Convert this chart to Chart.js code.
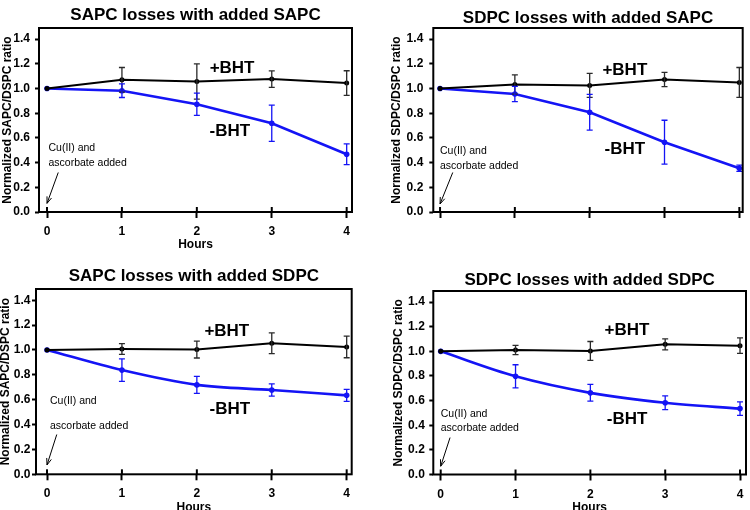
<!DOCTYPE html>
<html lang="en">
<head>
<meta charset="UTF-8">
<title>Losses with and without BHT</title>
<script src="https://cdn.jsdelivr.net/npm/chart.js@4.4.0/dist/chart.umd.min.js"></script>
<style>
    body { margin: 0; background: #fff; width: 750px; height: 510px; position: relative; overflow: hidden; }
    canvas { position: absolute; }
</style>
</head>
<body>
<canvas id="c1" width="375" height="255" style="left:0;top:0"></canvas>
<canvas id="c2" width="375" height="255" style="left:375px;top:0"></canvas>
<canvas id="c3" width="375" height="255" style="left:0;top:255px"></canvas>
<canvas id="c4" width="375" height="255" style="left:375px;top:255px"></canvas>
<script>
// data
const hours = [0, 1, 2, 3, 4];
const yTicks = [0, 0.2, 0.4, 0.6, 0.8, 1.0, 1.2, 1.4];

const titles = [
    'SAPC losses with added SAPC',
    'SDPC losses with added SAPC',
    'SAPC losses with added SDPC',
    'SDPC losses with added SDPC'
];
const yTitles = [
    'Normalized SAPC/DSPC ratio',
    'Normalized SDPC/DSPC ratio',
    'Normalized SAPC/DSPC ratio',
    'Normalized SDPC/DSPC ratio'
];
const seriesNames = ['+BHT', '-BHT'];
const noteLines = ['Cu(II) and', 'ascorbate added'];

// SAPC losses, added SAPC
const plusBHT1 = [1.0, 1.07, 1.057, 1.076, 1.044];
const plusErr1 = [0, 0.10, 0.143, 0.066, 0.10];
const minusBHT1 = [1.0, 0.982, 0.873, 0.719, 0.468];
const minusErr1 = [0, 0.055, 0.09, 0.147, 0.084];
// SDPC losses, added SAPC
const plusBHT2 = [1.0, 1.033, 1.025, 1.073, 1.049];
const plusErr2 = [0, 0.078, 0.097, 0.057, 0.121];
const minusBHT2 = [1.0, 0.955, 0.808, 0.565, 0.354];
const minusErr2 = [0, 0.062, 0.145, 0.178, 0.025];
// SAPC losses, added SDPC
const plusBHT3 = [1.0, 1.008, 1.003, 1.054, 1.024];
const plusErr3 = [0, 0.043, 0.068, 0.084, 0.087];
const minusBHT3 = [1.0, 0.838, 0.719, 0.678, 0.635];
const minusErr3 = [0, 0.09, 0.069, 0.049, 0.048];
// SDPC losses, added SDPC
const plusBHT4 = [1.0, 1.011, 1.003, 1.057, 1.046];
const plusErr4 = [0, 0.038, 0.077, 0.045, 0.063];
const minusBHT4 = [1.0, 0.797, 0.663, 0.582, 0.535];
const minusErr4 = [0, 0.094, 0.068, 0.056, 0.055];

const FONT = "'Liberation Sans', Arial, sans-serif";
const BLUE = '#1414f5';

// layout of each panel inside its 375x255 canvas
const panels = [
    { id: 'c1', plus: plusBHT1, plusErr: plusErr1, minus: minusBHT1, minusErr: minusErr1,
      padL: 0, left: 39, right: 352, top: 28, bottom: 212, titleY: 15,
      xMin: -0.107, xMax: 4.071, xLabels: true, xPad: 7, hoursPad: 4, yPad: 5, smooth: false,
      plusAt: [2.47, 1.16], minusAt: [2.44, 0.65], noteAt: [0.02, 0.515, 0.395], arrow: [0.15, 0.32, 0.0, 0.07] },
    { id: 'c2', plus: plusBHT2, plusErr: plusErr2, minus: minusBHT2, minusErr: minusErr2,
      padL: 14.5, left: 58.3, right: 367.7, top: 28, bottom: 212, titleY: 18,
      xMin: -0.09, xMax: 4.045, xLabels: false, xPad: 7, hoursPad: 4, yPad: 6, smooth: false,
      plusAt: [2.47, 1.15], minusAt: [2.47, 0.51], noteAt: [0.0, 0.497, 0.375], arrow: [0.17, 0.32, 0.0, 0.065] },
    { id: 'c3', plus: plusBHT3, plusErr: plusErr3, minus: minusBHT3, minusErr: minusErr3,
      padL: -2, left: 36, right: 351.7, top: 34, bottom: 219.3, titleY: 21.7,
      xMin: -0.147, xMax: 4.067, xLabels: true, xPad: 7.5, hoursPad: -3.5, yPad: 1.5, smooth: true,
      plusAt: [2.4, 1.15], minusAt: [2.44, 0.52], noteAt: [0.04, 0.59, 0.386], arrow: [0.13, 0.32, 0.0, 0.075] },
    { id: 'c4', plus: plusBHT4, plusErr: plusErr4, minus: minusBHT4, minusErr: minusErr4,
      padL: 16, left: 58.3, right: 371, top: 36, bottom: 219.5, titleY: 25,
      xMin: -0.099, xMax: 4.08, xLabels: true, xPad: 7.5, hoursPad: -3.5, yPad: 4.5, smooth: true,
      plusAt: [2.49, 1.17], minusAt: [2.49, 0.45], noteAt: [0.0, 0.49, 0.373], arrow: [0.125, 0.30, 0.0, 0.067] }
];

// error bars, frame and the text notes inside the plot
const extras = {
    id: 'extras',
    afterDatasetsDraw(chart) {
        const ctx = chart.ctx;
        const xs = chart.scales.x, ys = chart.scales.y;
        chart.data.datasets.forEach(ds => {
            ctx.save();
            ctx.strokeStyle = ds.errColor;
            ctx.lineWidth = 1.3;
            ds.data.forEach((pt, i) => {
                const e = ds.errors[i];
                if (!e) return;
                const px = xs.getPixelForValue(pt.x);
                const top = ys.getPixelForValue(pt.y + e);
                const bot = ys.getPixelForValue(pt.y - e);
                ctx.beginPath();
                ctx.moveTo(px, top); ctx.lineTo(px, bot);
                ctx.moveTo(px - 3, top); ctx.lineTo(px + 3, top);
                ctx.moveTo(px - 3, bot); ctx.lineTo(px + 3, bot);
                ctx.stroke();
            });
            ctx.restore();
        });
    },
    afterDraw(chart) {
        const ctx = chart.ctx;
        const a = chart.chartArea;
        const xs = chart.scales.x, ys = chart.scales.y;
        const p = chart.options.panel;
        ctx.save();
        ctx.strokeStyle = '#000';
        ctx.lineWidth = 2;
        ctx.strokeRect(a.left, a.top, a.right - a.left, a.bottom - a.top);
        // x ticks also poke into the plot
        hours.forEach(h => {
            const px = xs.getPixelForValue(h);
            ctx.beginPath();
            ctx.moveTo(px, a.bottom); ctx.lineTo(px, a.bottom - 5);
            ctx.stroke();
        });

        ctx.fillStyle = '#000';
        ctx.textAlign = 'center';
        ctx.textBaseline = 'middle';
        ctx.font = 'bold 17px ' + FONT;
        ctx.fillText(seriesNames[0], xs.getPixelForValue(p.plusAt[0]), ys.getPixelForValue(p.plusAt[1]));
        ctx.fillText(seriesNames[1], xs.getPixelForValue(p.minusAt[0]), ys.getPixelForValue(p.minusAt[1]));

        ctx.textAlign = 'left';
        ctx.font = '10.5px ' + FONT;
        ctx.fillText(noteLines[0], xs.getPixelForValue(p.noteAt[0]), ys.getPixelForValue(p.noteAt[1]));
        ctx.fillText(noteLines[1], xs.getPixelForValue(p.noteAt[0]), ys.getPixelForValue(p.noteAt[2]));

        // arrow to the start point
        const x1 = xs.getPixelForValue(p.arrow[0]), y1 = ys.getPixelForValue(p.arrow[1]);
        const x2 = xs.getPixelForValue(p.arrow[2]), y2 = ys.getPixelForValue(p.arrow[3]);
        const ang = Math.atan2(y2 - y1, x2 - x1);
        ctx.lineWidth = 1;
        ctx.beginPath();
        ctx.moveTo(x1, y1); ctx.lineTo(x2, y2);
        ctx.moveTo(x2, y2); ctx.lineTo(x2 - 7 * Math.cos(ang - 0.35), y2 - 7 * Math.sin(ang - 0.35));
        ctx.moveTo(x2, y2); ctx.lineTo(x2 - 7 * Math.cos(ang + 0.35), y2 - 7 * Math.sin(ang + 0.35));
        ctx.stroke();
        ctx.restore();
    }
};

function makePanel(p, n) {
    const tickFont = { family: FONT, size: 12, weight: 'bold' };
    new Chart(document.getElementById(p.id), {
        type: 'scatter',
        data: {
            datasets: [
                {
                    data: hours.map((h, i) => ({ x: h, y: p.plus[i] })),
                    errors: p.plusErr, errColor: '#2a2a2a',
                    showLine: true, borderColor: '#000', backgroundColor: '#000',
                    borderWidth: 2, pointRadius: 2.5, pointBorderWidth: 0
                },
                {
                    data: hours.map((h, i) => ({ x: h, y: p.minus[i] })),
                    errors: p.minusErr, errColor: BLUE,
                    showLine: true, borderColor: BLUE, backgroundColor: BLUE,
                    borderWidth: 2.6, pointRadius: 2.8, pointBorderWidth: 0,
                    cubicInterpolationMode: p.smooth ? 'monotone' : 'default'
                }
            ]
        },
        options: {
            panel: p,
            responsive: false,
            animation: false,
            layout: { padding: { left: p.padL, right: 375 - p.right, top: 0, bottom: 0 } },
            plugins: {
                legend: { display: false },
                tooltip: { enabled: false },
                title: {
                    display: true, text: titles[n], fullSize: false, color: '#000',
                    font: { family: FONT, size: 17, weight: 'bold', lineHeight: 1.2 },
                    padding: { top: p.titleY - 10.2, bottom: p.top - p.titleY - 10.2 }
                }
            },
            scales: {
                x: {
                    type: 'linear', min: p.xMin, max: p.xMax,
                    afterFit(s) { s.height = 255 - p.bottom; },
                    border: { display: false },
                    grid: { drawOnChartArea: false, tickLength: 6, tickWidth: 2, color: '#000' },
                    ticks: { stepSize: 1, includeBounds: false, display: p.xLabels, padding: p.xPad - 1,
                             color: '#000', font: tickFont },
                    title: { display: p.xLabels, text: 'Hours', color: '#000', padding: { top: 0, bottom: p.hoursPad },
                             font: { family: FONT, size: 12, weight: 'bold', lineHeight: 1 } }
                },
                y: {
                    min: 0, max: 1.49,
                    afterFit(s) { s.width = p.left - p.padL; },
                    afterBuildTicks(s) { s.ticks = yTicks.map(v => ({ value: v })); },
                    border: { display: false },
                    grid: { drawOnChartArea: false, tickLength: 4, tickWidth: 2, color: '#000' },
                    ticks: { padding: p.yPad, color: '#000', font: tickFont, callback: v => v.toFixed(1) },
                    title: { display: true, text: yTitles[n], color: '#000', padding: { top: 0, bottom: 0 },
                             font: { family: FONT, size: 12, weight: 'bold', lineHeight: 1.2 } }
                }
            }
        },
        plugins: [extras]
    });
}

panels.forEach(makePanel);
</script>
</body>
</html>
